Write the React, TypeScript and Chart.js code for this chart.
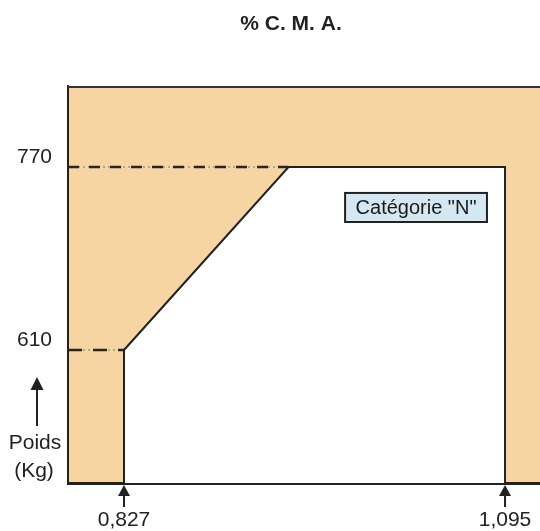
import React, { useEffect, useRef } from 'react';
import { Chart, registerables } from 'chart.js';

Chart.register(...registerables);

const TITLE = '% C. M. A.';
const X_TICKS = [0.827, 1.095];
const Y_TICKS = [610, 770];
const X_RANGE = [0.7876, 1.1196];
const Y_RANGE = [493.7, 840.8];
const ZONE_X = [0.827, 0.827, 0.9427, 1.095, 1.095];
const ZONE_Y = [493.7, 610, 770, 770, 493.7];
const GUIDE_770_X = [0.7876, 0.9427];
const GUIDE_610_X = [0.7876, 0.827];
const CATEGORY_LABEL = 'Catégorie "N"';
const CATEGORY_BOX_X = [0.9825, 1.0823];
const CATEGORY_BOX_Y = [721.9, 747.3];
const Y_CAPTION = ['Poids', '(Kg)'];

const FONT = "'Liberation Sans', Arial, Helvetica, sans-serif";
const TAN = '#f6d5a3';
const INK = '#222222';

function arrowUp(ctx: CanvasRenderingContext2D, x: number, tipY: number, headH: number, headW: number, tailY: number) {
  ctx.beginPath();
  ctx.moveTo(x, tipY);
  ctx.lineTo(x - headW / 2, tipY + headH);
  ctx.lineTo(x + headW / 2, tipY + headH);
  ctx.closePath();
  ctx.fill();
  ctx.fillRect(x - 1, tipY + headH - 1, 2, tailY - tipY - headH + 1);
}

const decorPlugin = {
  id: 'decor',
  beforeDraw(chart: any) {
    const { ctx, chartArea: a } = chart;
    ctx.save();
    ctx.fillStyle = TAN;
    ctx.fillRect(a.left, a.top, a.right - a.left, a.bottom - a.top);
    ctx.restore();
  },
  afterDraw(chart: any) {
    const { ctx, chartArea: a } = chart;
    const xs = chart.scales.x;
    const ys = chart.scales.y;
    ctx.save();
    // title
    ctx.fillStyle = INK;
    ctx.font = `bold 21px ${FONT}`;
    ctx.textAlign = 'center';
    ctx.textBaseline = 'middle';
    ctx.fillText(TITLE, 291, a.top - 62);

    // top frame line
    ctx.strokeStyle = '#333';
    ctx.lineWidth = 2;
    ctx.beginPath();
    ctx.moveTo(a.left, a.top + 1);
    ctx.lineTo(a.right, a.top + 1);
    ctx.stroke();

    // category box
    const bx0 = xs.getPixelForValue(CATEGORY_BOX_X[0]);
    const bx1 = xs.getPixelForValue(CATEGORY_BOX_X[1]);
    const by0 = ys.getPixelForValue(CATEGORY_BOX_Y[1]);
    const by1 = ys.getPixelForValue(CATEGORY_BOX_Y[0]);
    ctx.fillStyle = '#d3e8f1';
    ctx.fillRect(bx0, by0, bx1 - bx0, by1 - by0);
    ctx.strokeStyle = INK;
    ctx.lineWidth = 2;
    ctx.strokeRect(bx0, by0, bx1 - bx0, by1 - by0);
    ctx.fillStyle = '#1a1a1a';
    ctx.font = `20px ${FONT}`;
    ctx.fillText(CATEGORY_LABEL, (bx0 + bx1) / 2, (by0 + by1) / 2 + 1);

    // arrows under x ticks
    ctx.fillStyle = INK;
    for (const v of X_TICKS) {
      const px = xs.getPixelForValue(v);
      arrowUp(ctx, px, a.bottom + 2, 11, 12, a.bottom + 24);
    }

    // y caption
    arrowUp(ctx, a.left - 31, a.bottom - 106, 13, 13, a.bottom - 57);
    ctx.font = `21px ${FONT}`;
    ctx.fillStyle = INK;
    ctx.fillText(Y_CAPTION[0], a.left - 33, a.bottom - 40);
    ctx.fillText(Y_CAPTION[1], a.left - 34, a.bottom - 12);
    ctx.restore();
  },
};

export default function App() {
  const ref = useRef<HTMLCanvasElement | null>(null);

  useEffect(() => {
    if (!ref.current) return;
    const zone = ZONE_X.map((x, i) => ({ x, y: ZONE_Y[i] }));
    const g770 = GUIDE_770_X.map((x) => ({ x, y: Y_TICKS[1] }));
    const g610 = GUIDE_610_X.map((x) => ({ x, y: Y_TICKS[0] }));
    const chart = new Chart(ref.current, {
      type: 'line',
      data: {
        datasets: [
          {
            data: zone,
            borderColor: INK,
            borderWidth: 2,
            backgroundColor: '#ffffff',
            fill: 'start',
            pointRadius: 0,
            tension: 0,
            borderJoinStyle: 'miter',
          },
          { data: g770, borderColor: '#262626', borderWidth: 2.5, borderDash: [11, 10], pointRadius: 0, fill: false },
          { data: g770, borderColor: '#a7ab96', borderWidth: 2, borderDash: [2, 3], pointRadius: 0, fill: false },
          { data: g610, borderColor: '#262626', borderWidth: 2.5, borderDash: [14, 11], pointRadius: 0, fill: false },
          { data: g610, borderColor: '#a7ab96', borderWidth: 2, borderDash: [2, 3], pointRadius: 0, fill: false },
        ] as any,
      },
      options: {
        animation: false,
        responsive: false,
        devicePixelRatio: 1,
        layout: { padding: { left: 0, right: 0, top: 86, bottom: 0 } },
        plugins: {
          legend: { display: false },
          tooltip: { enabled: false },
          title: { display: false },
        },
        scales: {
          x: {
            type: 'linear',
            position: 'bottom',
            min: X_RANGE[0],
            max: X_RANGE[1],
            z: 1,
            grid: { display: false, drawTicks: false, tickLength: 0 },
            border: { display: true, color: INK, width: 3 },
            afterBuildTicks: (s: any) => {
              s.ticks = X_TICKS.map((value) => ({ value }));
            },
            afterFit: (s: any) => {
              s.height = 48;
              s.paddingLeft = 0;
              s.paddingRight = 0;
            },
            ticks: {
              color: INK,
              font: { family: FONT, size: 21 },
              padding: 25,
              maxRotation: 0,
              autoSkip: false,
              callback: (v: any) => String(v).replace('.', ','),
            },
          },
          y: {
            type: 'linear',
            position: 'left',
            min: Y_RANGE[0],
            max: Y_RANGE[1],
            z: 1,
            grid: { display: false, drawTicks: false, tickLength: 0 },
            border: { display: true, color: INK, width: 2 },
            afterBuildTicks: (s: any) => {
              s.ticks = Y_TICKS.map((value) => ({ value }));
            },
            afterFit: (s: any) => {
              s.width = 68;
              s.paddingTop = 0;
              s.paddingBottom = 0;
            },
            ticks: {
              color: INK,
              font: { family: FONT, size: 21 },
              padding: 16,
              labelOffset: -10,
              autoSkip: false,
              callback: (v: any) => String(v),
            },
          },
        },
      } as any,
      plugins: [decorPlugin],
    });
    return () => chart.destroy();
  }, []);

  return (
    <div style={{ position: 'absolute', left: 0, top: 0, width: 540, height: 531, background: '#fff' }}>
      <canvas ref={ref} width={540} height={531} style={{ display: 'block', width: 540, height: 531 }} />
    </div>
  );
}
